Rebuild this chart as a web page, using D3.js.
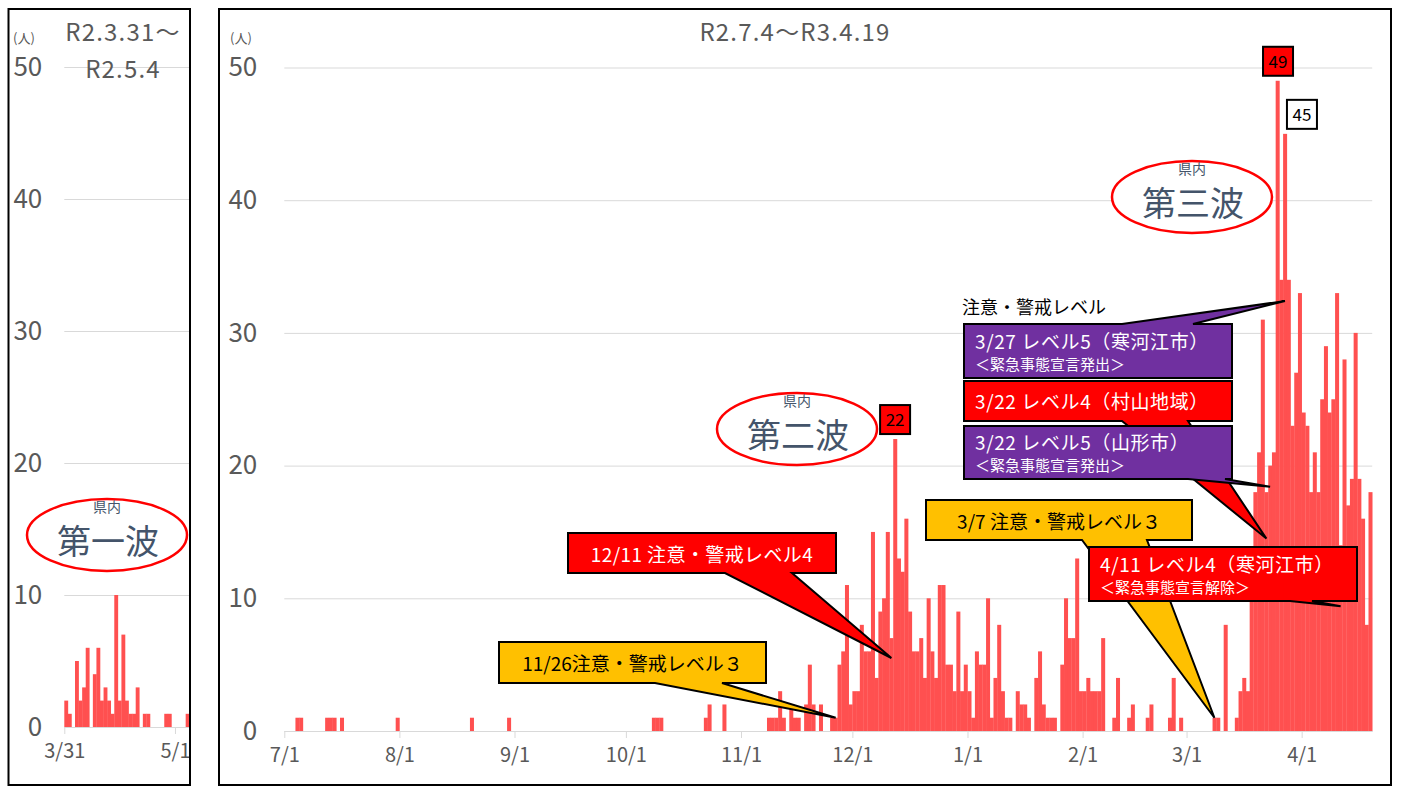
<!DOCTYPE html>
<html>
<head>
<meta charset="utf-8">
<script src="https://cdn.jsdelivr.net/npm/d3@7"></script>
<style>
  body { margin: 0; background: #fff; }
  svg text { font-family: "Noto Sans CJK JP", "Noto Sans", sans-serif; }
  .axis text { fill: #595959; }
  .axis path, .axis line { stroke: #d9d9d9; }
</style>
</head>
<body>
<svg id="chart" width="1401" height="790"></svg>
<script>
// 第一波 R2.3.31～R2.5.4 (daily cases from 3/31)
const wave1Counts = [2,1,0,5,2,3,6,0,4,6, 2,3,2,1,10,2,7,2,1,1, 3,0,1,1,0,0,0,0,1,1, 0,0,0,0,1];

// R2.7.4～R3.4.19, one array per month (axis starts at 7/1)
const jul = [0,0,0,1,1,0,0,0,0,0, 0,1,1,1,0,1,0,0,0,0, 0,0,0,0,0,0,0,0,0,0, 1];
const aug = [0,0,0,0,0,0,0,0,0,0, 0,0,0,0,0,0,0,0,0,1, 0,0,0,0,0,0,0,0,0,1, 0];
const sep = [0,0,0,0,0,0,0,0,0,0, 0,0,0,0,0,0,0,0,0,0, 0,0,0,0,0,0,0,0,0,0];
const oct = [0,0,0,0,0,0,0,1,1,1, 0,0,0,0,0,0,0,0,0,0, 0,1,2,0,0,0,2,0,0,0, 0];
const nov = [0,0,0,0,0,0,0,1,1,1, 3,1,0,2,1,1,0,2,5,2, 0,2,0,0,1,1,5,6,11,2];
const dec = [3,3,8,6,6,15,4,9,10,15, 7,22,13,12,16,9,6,6,7,4, 10,6,4,11,11,5,5,3,9,3, 5];
const jan = [3,1,6,5,5,10,1,4,8,3, 1,1,0,3,2,2,1,0,4,6, 2,1,1,1,0,5,10,7,7,13, 3];
const feb = [3,4,3,3,3,7,0,0,1,4, 0,0,1,2,0,0,0,1,2,0, 0,0,0,1,4,0,1,0];
const mar = [0,0,0,0,0,0,0,1,1,0, 8,0,0,1,3,4,3,10,18,21, 31,18,20,21,49,34,45,34,23,27, 33];
const apr = [24,23,18,21,18,25,29,24,25,33, 14,28,17,19,30,19,16,8,18];

const yTicks = [0, 10, 20, 30, 40, 50];

const parse = d3.timeParse("%Y-%m-%d");
const fmt = d3.timeFormat("%-m/%-d");
const barColor = "#ff5050";

const svg = d3.select("#chart");

// build daily records
function toDaily(start, counts) {
  return counts.map((v, i) => ({ date: d3.timeDay.offset(parse(start), i), value: v }));
}
const wave1Data = toDaily("2020-03-31", wave1Counts);
const mainData = toDaily("2020-07-01", [].concat(jul, aug, sep, oct, nov, dec, jan, feb, mar, apr));

// ---------- left panel ----------
const left = { x0: 64.3, x1: 64.3 + wave1Data.length * 3.57, y0: 727, y1: 67 };
const xL = d3.scaleTime()
  .domain([wave1Data[0].date, d3.timeDay.offset(wave1Data[wave1Data.length - 1].date, 1)])
  .range([left.x0, left.x1]);
const yL = d3.scaleLinear().domain([0, 50]).range([left.y0, left.y1]);

svg.append("clipPath").attr("id", "clipL")
  .append("rect").attr("x", 0).attr("y", 0).attr("width", 189).attr("height", 790);

const gL = svg.append("g").attr("clip-path", "url(#clipL)");

gL.append("g").attr("class", "axis")
  .attr("transform", "translate(" + left.x0 + ",0)")
  .call(d3.axisLeft(yL).tickValues(yTicks).tickSize(-(left.x1 - left.x0)).tickPadding(22))
  .call(g => g.select(".domain").remove())
  .call(g => g.selectAll("text").attr("font-size", 26).attr("font-family", "Noto Sans"));

gL.selectAll("rect.bar").data(wave1Data).enter().append("rect")
  .attr("class", "bar")
  .attr("x", d => xL(d.date))
  .attr("width", d => xL(d3.timeDay.offset(d.date, 1)) - xL(d.date) + 0.3)
  .attr("y", d => yL(d.value))
  .attr("height", d => yL(0) - yL(d.value))
  .attr("fill", barColor);

gL.append("g").attr("class", "axis")
  .attr("transform", "translate(0," + left.y0 + ")")
  .call(d3.axisBottom(xL).tickValues([parse("2020-03-31"), parse("2020-05-01")])
    .tickFormat(fmt).tickSize(7).tickPadding(10).tickSizeOuter(0))
  .call(g => g.selectAll("text").attr("font-size", 20).attr("font-family", "Noto Sans"));

// ---------- main panel ----------
const main = { x0: 284.3, x1: 284.3 + mainData.length * 3.713, y0: 731, y1: 67.5 };
const x = d3.scaleTime()
  .domain([mainData[0].date, d3.timeDay.offset(mainData[mainData.length - 1].date, 1)])
  .range([main.x0, main.x1]);
const y = d3.scaleLinear().domain([0, 50]).range([main.y0, main.y1]);
const bw = x(parse("2020-07-02")) - x(parse("2020-07-01"));
const cx = s => x(parse(s)) + bw / 2;

svg.append("g").attr("class", "axis")
  .attr("transform", "translate(" + main.x0 + ",0)")
  .call(d3.axisLeft(y).tickValues(yTicks).tickSize(-(main.x1 - main.x0)).tickPadding(27))
  .call(g => g.select(".domain").remove())
  .call(g => g.selectAll("text").attr("font-size", 26).attr("font-family", "Noto Sans"));

svg.append("g").selectAll("rect").data(mainData).enter().append("rect")
  .attr("x", d => x(d.date))
  .attr("width", bw + 0.3)
  .attr("y", d => y(d.value))
  .attr("height", d => y(0) - y(d.value))
  .attr("fill", barColor);

const monthTicks = d3.timeMonth.range(parse("2020-07-01"), parse("2021-04-20"));
svg.append("g").attr("class", "axis")
  .attr("transform", "translate(0," + main.y0 + ")")
  .call(d3.axisBottom(x).tickValues(monthTicks).tickFormat(fmt)
    .tickSize(7).tickPadding(10).tickSizeOuter(0))
  .call(g => g.selectAll("text").attr("font-size", 20).attr("font-family", "Noto Sans"));

// ---------- panel frames and titles ----------
svg.append("rect").attr("x", 8.5).attr("y", 9).attr("width", 181.5).attr("height", 776)
  .attr("fill", "none").attr("stroke", "#000").attr("stroke-width", 2);
svg.append("rect").attr("x", 219).attr("y", 9).attr("width", 1172).attr("height", 776)
  .attr("fill", "none").attr("stroke", "#000").attr("stroke-width", 2);

const titleStyle = t => t.attr("fill", "#595959").attr("font-size", 24)
  .attr("letter-spacing", 1.2).attr("text-anchor", "middle");
svg.append("text").attr("x", 123).attr("y", 41).text("R2.3.31～").call(titleStyle);
svg.append("text").attr("x", 123).attr("y", 78).text("R2.5.4").call(titleStyle);
svg.append("text").attr("x", 795).attr("y", 41).text("R2.7.4～R3.4.19").call(titleStyle);
svg.append("text").attr("x", 13).attr("y", 43).text("(人)").attr("font-size", 13).attr("fill", "#595959");
svg.append("text").attr("x", 230).attr("y", 43).text("(人)").attr("font-size", 13).attr("fill", "#595959");

// ---------- wave labels ----------
function wave(cxp, cyp, label) {
  const g = svg.append("g");
  g.append("ellipse").attr("cx", cxp).attr("cy", cyp).attr("rx", 80).attr("ry", 36)
    .attr("fill", "#fff").attr("stroke", "#ff0000").attr("stroke-width", 2.5);
  g.append("text").attr("x", cxp + 1).attr("y", cyp + 19).attr("text-anchor", "middle")
    .attr("font-size", 34).attr("fill", "#44546a").text(label);
  g.append("text").attr("x", cxp).attr("y", cyp - 23).attr("text-anchor", "middle")
    .attr("font-size", 14).attr("fill", "#44546a").text("県内");
}
wave(107, 535, "第一波");
wave(797, 429, "第二波");
wave(1192, 197, "第三波");

// ---------- callouts ----------
function callout(c) {
  const { bx, by, w, h } = c;
  const tx = cx(c.tip.date) + (c.tip.dx || 0), ty = y(c.tip.value);
  let p;
  if (c.side === "top") {
    p = `M${bx},${by}H${c.base[0]}L${tx},${ty}L${c.base[1]},${by}H${bx + w}V${by + h}H${bx}Z`;
  } else {
    p = `M${bx},${by}H${bx + w}V${by + h}H${c.base[1]}L${tx},${ty}L${c.base[0]},${by + h}H${bx}Z`;
  }
  svg.append("path").attr("d", p).attr("fill", c.fill)
    .attr("stroke", "#000").attr("stroke-width", 2).attr("stroke-linejoin", "miter");
  c.lines.forEach(l => {
    svg.append("text")
      .attr("x", c.center ? bx + w / 2 : bx + 11)
      .attr("y", by + l.dy)
      .attr("text-anchor", c.center ? "middle" : "start")
      .attr("font-size", l.size)
      .attr("letter-spacing", l.ls || 0)
      .attr("fill", c.color)
      .text(l.text);
  });
}

const callouts = [
  { bx: 499, by: 642, w: 267, h: 41, fill: "#ffc000", color: "#000", center: true, side: "bottom",
    base: [655, 722], tip: { date: "2020-11-26", value: 1 },
    lines: [{ text: "11/26注意・警戒レベル３", size: 19, dy: 29 }] },
  { bx: 568, by: 533, w: 268, h: 40, fill: "#ff0000", color: "#fff", center: true, side: "bottom",
    base: [725, 792], tip: { date: "2020-12-11", value: 5.5 },
    lines: [{ text: "12/11 注意・警戒レベル4", size: 19, dy: 29, ls: 0.4 }] },
  { bx: 926, by: 500, w: 266, h: 40, fill: "#ffc000", color: "#000", center: true, side: "bottom",
    base: [1082, 1147], tip: { date: "2021-03-08", value: 1 },
    lines: [{ text: "3/7 注意・警戒レベル３", size: 19, dy: 29 }] },
  { bx: 1089, by: 547, w: 268, h: 54, fill: "#ff0000", color: "#fff", side: "bottom",
    base: [1290, 1312], tip: { date: "2021-04-11", value: 9.4 },
    lines: [{ text: "4/11 レベル4（寒河江市）", size: 19, dy: 25, ls: 0.6 }, { text: "＜緊急事態宣言解除＞", size: 15, dy: 46 }] },
  { bx: 964, by: 381, w: 268, h: 40, fill: "#ff0000", color: "#fff", side: "bottom",
    base: [1122, 1188], tip: { date: "2021-03-22", value: 14.5 },
    lines: [{ text: "3/22 レベル4（村山地域）", size: 19, dy: 28, ls: 0.6 }] },
  { bx: 964, by: 426, w: 268, h: 53, fill: "#7030a0", color: "#fff", side: "bottom",
    base: [1188, 1225], tip: { date: "2021-03-23", value: 18.4 },
    lines: [{ text: "3/22 レベル5（山形市）", size: 19, dy: 24, ls: 0.6 }, { text: "＜緊急事態宣言発出＞", size: 15, dy: 45 }] },
  { bx: 964, by: 324, w: 268, h: 54, fill: "#7030a0", color: "#fff", side: "top",
    base: [1122, 1193], tip: { date: "2021-03-27", value: 32.4 },
    lines: [{ text: "3/27 レベル5（寒河江市）", size: 19, dy: 25, ls: 0.6 }, { text: "＜緊急事態宣言発出＞", size: 15, dy: 46 }] }
];
callouts.forEach(callout);

svg.append("text").attr("x", 962).attr("y", 314).attr("font-size", 18).attr("fill", "#000")
  .text("注意・警戒レベル");

// ---------- peak value labels ----------
const peaks = [
  { date: "2020-12-12", value: 22, fill: "#ff0000", dx: 0 },
  { date: "2021-03-25", value: 49, fill: "#ff0000", dx: 0.5 },
  { date: "2021-03-27", value: 45, fill: "#fff", dx: 17 }
];
peaks.forEach(p => {
  const px = cx(p.date) + p.dx, py = y(p.value) - 4;
  svg.append("rect").attr("x", px - 15).attr("y", py - 30).attr("width", 30).attr("height", 29)
    .attr("fill", p.fill).attr("stroke", "#000").attr("stroke-width", 2);
  svg.append("text").attr("x", px).attr("y", py - 9).attr("text-anchor", "middle")
    .attr("font-size", 17).attr("font-family", "Noto Sans").attr("fill", "#000").text(p.value);
});
</script>
</body>
</html>
